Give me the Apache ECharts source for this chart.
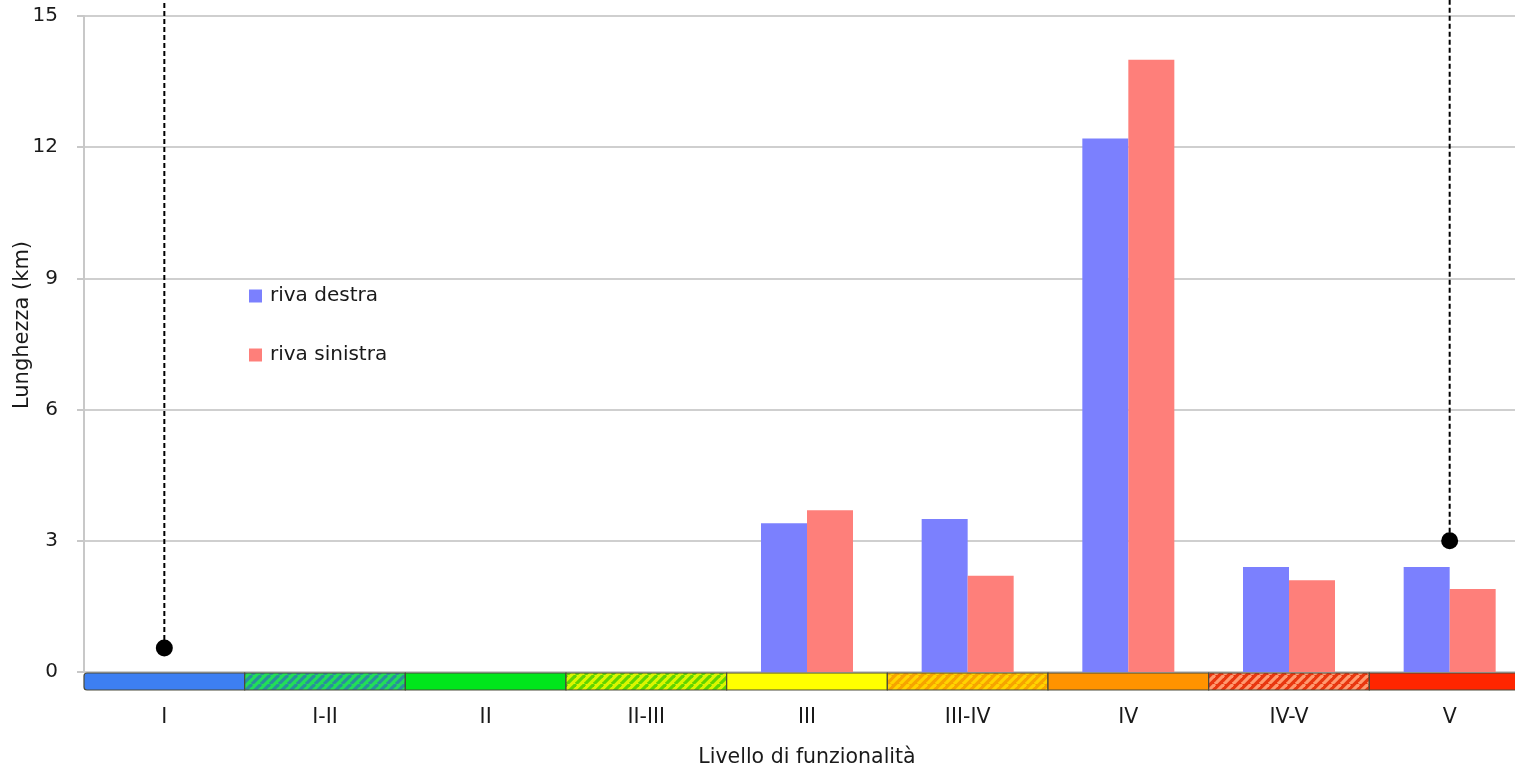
<!DOCTYPE html>
<html>
<head>
<meta charset="utf-8">
<title>Livello di funzionalità</title>
<script src="https://cdn.jsdelivr.net/npm/echarts@6/dist/echarts.min.js"></script>
<style>
  html, body { margin: 0; padding: 0; background: #fff; }
  #chart { width: 1515px; height: 769px; }
</style>
</head>
<body>
<div id="chart"></div>
<script>
// dati
const categories = ['I', 'I-II', 'II', 'II-III', 'III', 'III-IV', 'IV', 'IV-V', 'V'];
const rivaDestra = [0, 0, 0, 0, 3.4, 3.5, 12.2, 2.4, 2.4];
const rivaSinistra = [0, 0, 0, 0, 3.7, 2.2, 14.0, 2.1, 1.9];
const yTicks = [0, 3, 6, 9, 12, 15];
const markerCats = ['I', 'V'];
const markerValues = [0.55, 3.0];
const markerTop = 15.4;

// colori della barra dei livelli (null = tinta unita)
const bandBase = ['#3d7ff2', '#22de58', '#00e61c', '#dcf500', '#ffff00', '#f6a400', '#ff9300', '#e8360f', '#ff2600'];
const bandStripe = [null, '#2a8f9c', null, '#5fd400', null, '#ffd400', null, '#ff9a70', null];

const FONT = "'DejaVu Sans', 'Open Sans', sans-serif";

function stripePattern(base, stripe) {
  const c = document.createElement('canvas');
  c.width = 9; c.height = 9;
  const ctx = c.getContext('2d');
  ctx.fillStyle = base;
  ctx.fillRect(0, 0, 9, 9);
  ctx.strokeStyle = stripe;
  ctx.lineWidth = 3.2;
  for (let k = -1; k <= 1; k++) {
    ctx.beginPath();
    ctx.moveTo(k * 9, 9);
    ctx.lineTo(k * 9 + 9, 0);
    ctx.stroke();
  }
  return { image: c, repeat: 'repeat' };
}

const chart = echarts.init(document.getElementById('chart'));

const markerLines = markerCats.map((cat, i) => ({
  type: 'line',
  data: [[cat, markerValues[i]], [cat, markerTop]],
  symbol: 'none',
  clip: false,
  silent: true,
  lineStyle: { color: '#000', width: 2, type: [5, 3] },
  z: 5
}));

const option = {
  animation: false,
  textStyle: { fontFamily: FONT },
  grid: { left: 84, top: 16, width: 1446, height: 656, outerBoundsMode: 'none', containLabel: false },
  legend: {
    data: ['riva destra', 'riva sinistra'],
    orient: 'vertical',
    left: 244,
    top: 281,
    itemWidth: 13,
    itemHeight: 13,
    itemGap: 39,
    icon: 'rect',
    textStyle: { fontFamily: FONT, fontSize: 20, color: '#1a1a1a', padding: [0, 0, 0, 3] }
  },
  xAxis: {
    type: 'category',
    data: categories,
    name: 'Livello di funzionalità',
    nameLocation: 'middle',
    nameGap: 75,
    nameTextStyle: { fontSize: 20.5, color: '#1a1a1a' },
    axisLine: { show: false },
    axisTick: { show: false },
    axisLabel: { fontSize: 20.5, color: '#1a1a1a', margin: 35 }
  },
  yAxis: {
    type: 'value',
    min: yTicks[0],
    max: yTicks[yTicks.length - 1],
    interval: 3,
    name: 'Lunghezza (km)',
    nameLocation: 'middle',
    nameGap: 51,
    nameMoveOverlap: false,
    nameTextStyle: { fontSize: 21, color: '#1a1a1a', padding: [0, 0, 0, 38] },
    axisLine: { show: true, lineStyle: { color: '#c8c8c8', width: 2 } },
    axisTick: { show: true, length: 7, lineStyle: { color: '#c8c8c8', width: 2 } },
    axisLabel: { fontSize: 20, color: '#1a1a1a', margin: 26 },
    splitLine: { lineStyle: { color: '#cfcfcf', width: 2 } }
  },
  series: [
    {
      name: 'riva destra',
      type: 'bar',
      data: rivaDestra,
      barWidth: 46,
      barGap: '0%',
      itemStyle: { color: '#7b80fe' }
    },
    {
      name: 'riva sinistra',
      type: 'bar',
      data: rivaSinistra,
      barWidth: 46,
      barGap: '0%',
      itemStyle: { color: '#fe7f7a' }
    },
    {
      type: 'custom',
      data: categories.map((c, i) => [i]),
      clip: false,
      silent: true,
      z: 4,
      renderItem: function (params, api) {
        const idx = api.value(0);
        const p = api.coord([idx, 0]);
        const w = api.size([1, 0])[0];
        const fill = bandStripe[idx] ? stripePattern(bandBase[idx], bandStripe[idx]) : bandBase[idx];
        return {
          type: 'rect',
          shape: { x: p[0] - w / 2, y: p[1] + 1, width: w, height: 17, r: idx === 0 ? [3, 0, 0, 3] : 0 },
          style: { fill: fill, stroke: '#4a4a3a', lineWidth: 1.2 }
        };
      }
    },
    ...markerLines,
    {
      type: 'scatter',
      data: markerCats.map((c, i) => [c, markerValues[i]]),
      symbol: 'circle',
      symbolSize: 17,
      silent: true,
      itemStyle: { color: '#000', opacity: 1 },
      z: 6
    }
  ]
};

chart.setOption(option);
</script>
</body>
</html>
